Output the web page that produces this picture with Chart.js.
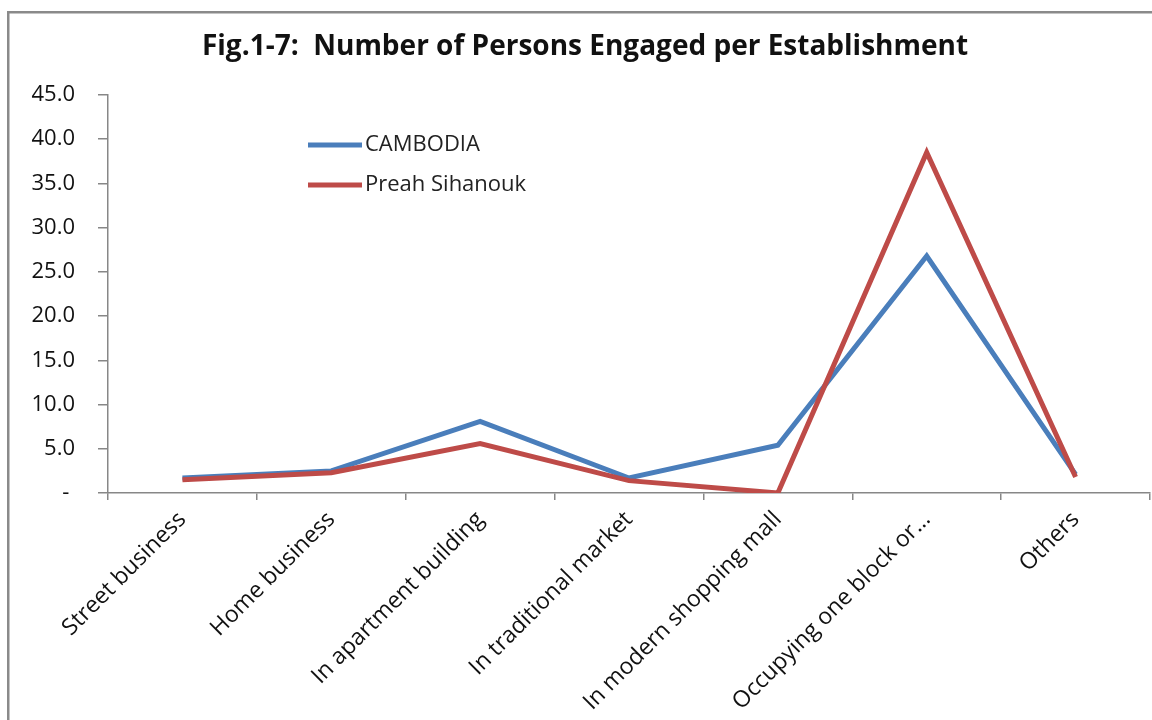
<!DOCTYPE html>
<html>
<head>
    <title>Number of Persons Engaged per Establishment</title>
    <style>
        body { margin: 0; background: #fff; overflow: hidden; }
        canvas { display: block; }
    </style>
</head>
<body>
    <canvas id="chart" width="1152" height="720"></canvas>

    <script src="https://cdn.jsdelivr.net/npm/chart.js"></script>
    <script>
        const categories = ['Street business', 'Home business', 'In apartment building', 'In traditional market',
            'In modern shopping mall', 'Occupying one block or\u2026', 'Others'];
        const cambodia = [1.7, 2.5, 8.1, 1.7, 5.4, 26.8, 2.1];
        const preahSihanouk = [1.5, 2.3, 5.6, 1.4, 0.0, 38.5, 1.8];
        const yTickValues = [0, 5, 10, 15, 20, 25, 30, 35, 40, 45];

        const FONT = "'Open Sans', sans-serif";
        const AXIS_GREY = '#878787';

        // frame, title and in-plot legend
        const decor = {
            id: 'decor',
            beforeDraw(chart) {
                const c = chart.ctx;
                c.save();
                c.fillStyle = '#fff';
                c.fillRect(0, 0, chart.width, chart.height);
                c.fillStyle = '#8a8a8a';
                c.fillRect(7, 11, 2.5, chart.height);
                c.fillRect(7, 11, chart.width, 2.5);
                c.restore();
            },
            afterDraw(chart) {
                const c = chart.ctx;
                c.save();
                c.fillStyle = '#111';
                c.font = 'bold 28px ' + FONT;
                c.textAlign = 'center';
                c.textBaseline = 'alphabetic';
                c.fillText('Fig.1-7:  Number of Persons Engaged per Establishment', 585, 55);

                c.font = '22px ' + FONT;
                c.textAlign = 'left';
                c.textBaseline = 'middle';
                chart.data.datasets.forEach((ds, i) => {
                    const y = 145 + i * 40;
                    c.strokeStyle = ds.borderColor;
                    c.lineWidth = 5;
                    c.beginPath();
                    c.moveTo(308, y);
                    c.lineTo(362, y);
                    c.stroke();
                    c.fillStyle = '#222';
                    c.fillText(ds.label, 365, y);
                });
                c.restore();
            }
        };

        new Chart(document.getElementById('chart').getContext('2d'), {
            type: 'line',
            data: {
                labels: categories,
                datasets: [
                    {
                        label: 'CAMBODIA',
                        data: cambodia,
                        borderColor: '#4a7ebb',
                        borderWidth: 5,
                        pointRadius: 0,
                        tension: 0,
                        fill: false,
                        order: 2
                    },
                    {
                        label: 'Preah Sihanouk',
                        data: preahSihanouk,
                        borderColor: '#be4b48',
                        borderWidth: 5,
                        pointRadius: 0,
                        tension: 0,
                        fill: false,
                        order: 1
                    }
                ]
            },
            options: {
                responsive: false,
                animation: false,
                layout: { padding: { top: 95, left: 0, right: 2, bottom: 2 } },
                plugins: {
                    legend: { display: false },
                    title: { display: false },
                    tooltip: { enabled: false }
                },
                scales: {
                    x: {
                        offset: true,
                        grid: { offset: true, drawOnChartArea: false, tickLength: 7, color: AXIS_GREY, lineWidth: 1.5 },
                        border: { color: AXIS_GREY, width: 1.5 },
                        ticks: {
                            autoSkip: false,
                            maxRotation: 45,
                            minRotation: 45,
                            padding: 6,
                            color: '#111',
                            font: { family: FONT, size: 23 }
                        },
                        afterFit(scale) { scale.height = 225; }
                    },
                    y: {
                        min: 0,
                        max: 45,
                        afterBuildTicks(scale) { scale.ticks = yTickValues.map(v => ({ value: v })); },
                        grid: { drawOnChartArea: false, tickLength: 10, color: AXIS_GREY, lineWidth: 1.5 },
                        border: { color: AXIS_GREY, width: 1.5 },
                        ticks: {
                            padding: 23,
                            color: '#111',
                            font: { family: FONT, size: 22 },
                            callback: v => v === 0 ? '- ' : v.toFixed(1)
                        },
                        afterFit(scale) { scale.width = 108; }
                    }
                }
            },
            plugins: [decor]
        });
    </script>
</body>
</html>
